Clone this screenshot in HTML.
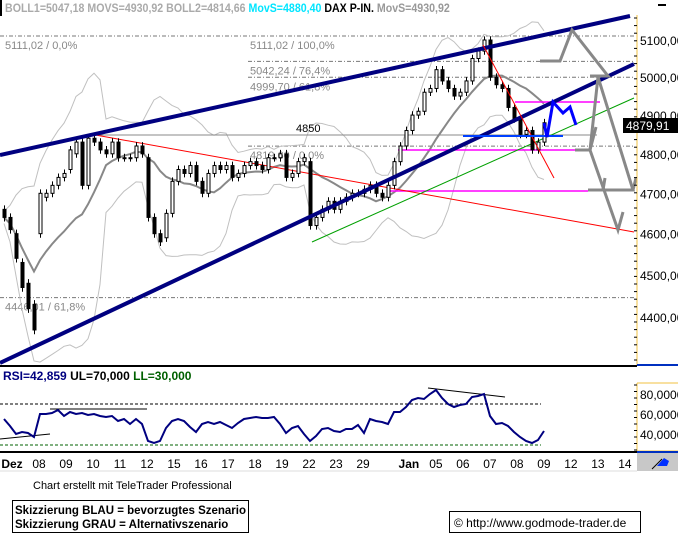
<!DOCTYPE html>
<html><head><meta charset="utf-8"><style>
body{margin:0;background:#fff;width:678px;height:535px;overflow:hidden;font-family:"Liberation Sans",sans-serif}
svg{display:block}
</style></head><body>
<svg id="c" width="678" height="535" xmlns="http://www.w3.org/2000/svg" font-family="Liberation Sans, sans-serif">
<rect width="678" height="535" fill="#fff"/>
<rect x="0" y="0" width="2" height="16" fill="#000"/>
<rect x="658" y="4" width="8" height="2" fill="#000"/>
<text x="5" y="12" font-size="12" font-weight="bold" transform="translate(0.6,0) scale(0.885,1)"><tspan fill="#aaa">BOLL1=5047,18 MOVS=4930,92 BOLL2=4814,66 </tspan><tspan fill="#00e5ff">MovS=4880,40 </tspan><tspan fill="#000">DAX P-IN. </tspan><tspan fill="#999">MovS=4930,92</tspan></text>
<g id="grid"></g>
<g id="bands"></g>
<g id="annot-under"></g>
<g id="candles"></g>
<g id="annot"></g>
<g id="axis"></g>
<g id="rsi"></g>
</svg>
<script>
const NS='http://www.w3.org/2000/svg';
const closes=[4640,4610,4540,4470,4420,4370,4700,4700,4720,4740,4750,4810,4830,4720,4840,4830,4810,4800,4830,4790,4790,4790,4820,4800,4640,4600,4580,4650,4730,4760,4750,4770,4730,4700,4750,4770,4760,4770,4740,4750,4770,4780,4770,4760,4790,4790,4800,4740,4750,4780,4790,4620,4640,4660,4680,4660,4680,4690,4700,4700,4710,4720,4700,4690,4720,4780,4820,4860,4900,4910,4960,4970,5020,4990,4970,4950,4960,4990,5050,5070,5100,5000,4980,4970,4920,4890,4850,4860,4810,4830,4880];
const opens=[4660,4640,4600,4530,4480,4430,4600,4690,4700,4720,4740,4760,4800,4830,4720,4840,4830,4810,4800,4830,4790,4790,4790,4820,4790,4640,4600,4590,4650,4730,4760,4750,4770,4730,4700,4750,4770,4760,4770,4740,4750,4770,4780,4770,4760,4790,4790,4800,4740,4750,4780,4780,4620,4640,4660,4680,4660,4680,4690,4700,4700,4710,4720,4700,4690,4720,4780,4820,4860,4900,4910,4960,4970,5020,4990,4970,4950,4960,4990,5050,5070,5100,5000,4980,4970,4920,4890,4850,4860,4810,4830];
const rsiValues=[55,48,40,42,41,37,60,60,61,64,58,62,60,61,59,60,58,57,58,53,55,50,55,50,33,31,33,46,53,55,53,47,42,50,52,50,52,49,46,51,55,56,57,56,56,57,50,41,46,48,40,33,38,45,46,43,42,45,45,49,41,55,53,52,50,62,62,67,74,76,75,80,84,76,70,67,69,70,77,78,80,58,50,51,48,42,37,33,31,34,43];
const priceTicks=[5100,5000,4900,4800,4700,4600,4500,4400];
const rsiTicks=[80,60,40];
const dateLabels=['Dez','08','09','10','11','12','15','16','17','18','19','22','23','29','Jan','05','06','07','08','09','12','13','14'];
const dateSlots=[0,1,2,3,4,5,6,7,8,9,10,11,12,13,14.7,15.7,16.7,17.7,18.7,19.7,20.7,21.7,22.7];

const xC=i=>4+i*6;
const yP=p=>40+(Math.log(5100)-Math.log(p))*1877;
const yR=r=>474-r;
const xD=s=>12+s*27;

function el(parent,tag,attrs){const e=document.createElementNS(NS,tag);for(const k in attrs)e.setAttribute(k,attrs[k]);document.getElementById(parent).appendChild(e);return e;}
function txt(parent,x,y,s,attrs){const e=el(parent,'text',Object.assign({x:x,y:y},attrs||{}));e.textContent=s;return e;}

const fib=[[5111.02,0,'5111,02 / 0,0%',5],[5042.24,248,'5042,24 / 76,4%',250],[4999.7,248,'4999,70 / 61,8%',250],[4819.6,248,'4819,60 / 0,0%',250],[4446.01,0,'4446,01 / 61,8%',5]];
fib.forEach(f=>{const y=yP(f[0]);
 const l=el('grid','line',{x1:f[1],y1:y,x2:634,y2:y,stroke:'#777','stroke-dasharray':'4,2,1,2','stroke-width':1});
 
 
 const t=txt('grid',f[3],y+13,f[2],{'font-size':11,fill:'#888'});
 
 
});
{const t=txt('grid',250,49,'5111,02 / 100,0%',{'font-size':11,fill:'#888'});
 
 }

const ma=[],up=[],lo=[];
closes.forEach((c,i)=>{const s=closes.slice(Math.max(0,i-11),i+1);const m=s.reduce((a,b)=>a+b,0)/s.length;const sd=Math.sqrt(s.reduce((a,b)=>a+(b-m)*(b-m),0)/s.length);ma.push(m);up.push(m+2*sd+15);lo.push(m-2*sd-15);});
function poly(arr,attrs,name){const p=el('bands','polyline',Object.assign({points:arr.map((v,i)=>xC(i)+','+yP(v).toFixed(1)).join(' '),fill:'none'},attrs));}
poly(up,{stroke:'#c0c0c0','stroke-width':1},'bollinger-upper');
poly(lo,{stroke:'#c0c0c0','stroke-width':1},'bollinger-lower');
poly(ma,{stroke:'#888','stroke-width':2},'moving-average');

closes.forEach((c,i)=>{const o=opens[i];const x=xC(i)+0.5;const hi=Math.max(o,c)+10,lw=Math.min(o,c)-10;
 const w=el('candles','line',{x1:x,y1:yP(hi),x2:x,y2:yP(lw),stroke:'#000','stroke-width':1});
 
 
 const yt=yP(Math.max(o,c)),yb=yP(Math.min(o,c));
 const b=el('candles','rect',{x:x-1.5,y:yt,width:3,height:Math.max(1,yb-yt),fill:c>=o?'#fff':'#000',stroke:'#000','stroke-width':1});
 
 
});

function L(g,pts,stroke,w,name){const p=el(g,'polyline',{points:pts,fill:'none',stroke:stroke,'stroke-width':w,'stroke-linejoin':'miter'});return p;}
L('annot-under','90,135 597,135','#888',1,'level-4850-line');
L('annot-under','515,102 600,102','#ff00ff',1.5,'magenta-level-1');
L('annot-under','398,150 576,150','#ff00ff',1.5,'magenta-level-2');
L('annot-under','388,191 588,191','#ff00ff',1.5,'magenta-level-3');
L('annot-under','90,134 634,232','#ff0000',1,'red-downtrend-line');
L('annot-under','312,242 634,98','#00a000',1,'green-trend-line');
L('annot','0,155 630,16','#000080',4,'upper-channel-line');
L('annot','0,363 634,64','#000080',4,'lower-channel-line');
L('annot','483,45 554,178','#ff0000',1,'red-steep-line');
L('annot','463,136 563,136','#0040ff',2,'blue-support-line');
L('annot','544,123 547,137 553,102 563,113 570,107 576,125','#0000ff',3,'blue-scenario');
L('annot','540,61 560,61 572,30 608,76 590,76','#888',3,'gray-scenario-1');
L('annot','575,150 590,150 598,77 633,190 588,190','#888',3,'gray-scenario-2');
L('annot','590,150 618,230 623,212','#888',3,'gray-scenario-3');
L('annot','596,127 590,150','#888',3,'gray-arrowhead');
L('annot','605,178 603,190','#888',3,'gray-arrowhead');
L('annot','636,178 633,190','#888',3,'gray-arrowhead');
{const t=txt('annot',296,132,'4850',{'font-size':11,fill:'#000'});}

L('axis','637,15 637,365','#f0c040',1,'price-axis-line');
for(let y=18;y<365;y+=7.6){el('axis','line',{x1:634,y1:y,x2:637,y2:y,stroke:'#000','stroke-width':1});}
priceTicks.forEach(p=>{const y=yP(p);
 const t=txt('axis',640,y+5,p.toFixed(2).replace('.',','),{'font-size':12,fill:'#000'});
 
 });
el('axis','rect',{x:623,y:118,width:55,height:15,fill:'#000'});
{const t=txt('axis',626,130,'4879,91',{'font-size':12,fill:'#fff'});}
L('axis','0,366 637,366','#000',2,'main-panel-bottom');
L('axis','637,365 678,365','#0030c0',2,'axis-blue-line');

{const t=el('rsi','text',{x:3,y:380,'font-size':12,'font-weight':'bold'});t.innerHTML='<tspan fill="#000080">RSI=42,859 </tspan><tspan fill="#000">UL=70,000 </tspan><tspan fill="#006000">LL=30,000</tspan>';}
L('rsi','0,404 541,404','#000',1,'rsi-upper-limit').setAttribute('stroke-dasharray','3,2');
L('rsi','0,445 541,445','#006000',1,'rsi-lower-limit').setAttribute('stroke-dasharray','3,2');
L('rsi','0,439 50,434','#000',1,'rsi-trendline-1');
L('rsi','50,409 147,409','#000',1,'rsi-trendline-2');
L('rsi','428,388 505,397','#000',1,'rsi-trendline-3');
{const p=el('rsi','polyline',{points:rsiValues.map((v,i)=>xC(i)+','+yR(v)).join(' '),fill:'none',stroke:'#000080','stroke-width':2});}
L('rsi','637,383 637,451 678,451','#f0c040',1,'rsi-axis-line');
L('rsi','637,383 678,383','#f0c040',1,'rsi-axis-top');
for(let y=385;y<451;y+=6.5){el('rsi','line',{x1:634,y1:y,x2:637,y2:y,stroke:'#000','stroke-width':1});}
rsiTicks.forEach(r=>{const t=txt('rsi',640,yR(r)+5,r.toFixed(4).replace('.',','),{'font-size':12,fill:'#000'});});
L('rsi','0,452 637,452','#000',2,'rsi-panel-bottom');
L('rsi','637,452 678,452','#0030c0',2,'rsi-axis-blue');
el('rsi','rect',{x:637,y:453,width:41,height:18,fill:'#c8c8c8'});
{const p=el('rsi','path',{d:'M657,466 L664,458 L669,461 L667,466 Z',fill:'#0030ff'});}
L('rsi','652,469 662,459','#000',1,'tool-icon-stroke');
dateLabels.forEach((d,i)=>{const t=txt('rsi',xD(dateSlots[i]),468,d,{'font-size':12,'text-anchor':'middle',fill:'#000','font-weight':(d==='Jan'||d==='Dez')?'bold':'normal'});
 
 });
L('rsi','0,471 637,471','#ddd',1,'date-axis-bottom');

{const t=txt('rsi',33,489,'Chart erstellt mit TeleTrader Professional',{'font-size':11,fill:'#000'});}
{const r=el('rsi','rect',{x:12.5,y:500.5,width:236,height:32,fill:'none',stroke:'#000'});}
{const t=txt('rsi',15,514,'Skizzierung BLAU = bevorzugtes Szenario',{'font-size':11.5,'font-weight':'bold'});}
{const t=txt('rsi',15,528,'Skizzierung GRAU = Alternativszenario',{'font-size':11.5,'font-weight':'bold'});}
{const r=el('rsi','rect',{x:449.5,y:511.5,width:191,height:21,fill:'none',stroke:'#000'});}
{const t=txt('rsi',454,527,'© http://www.godmode-trader.de',{'font-size':12});}
</script>
</body></html>
